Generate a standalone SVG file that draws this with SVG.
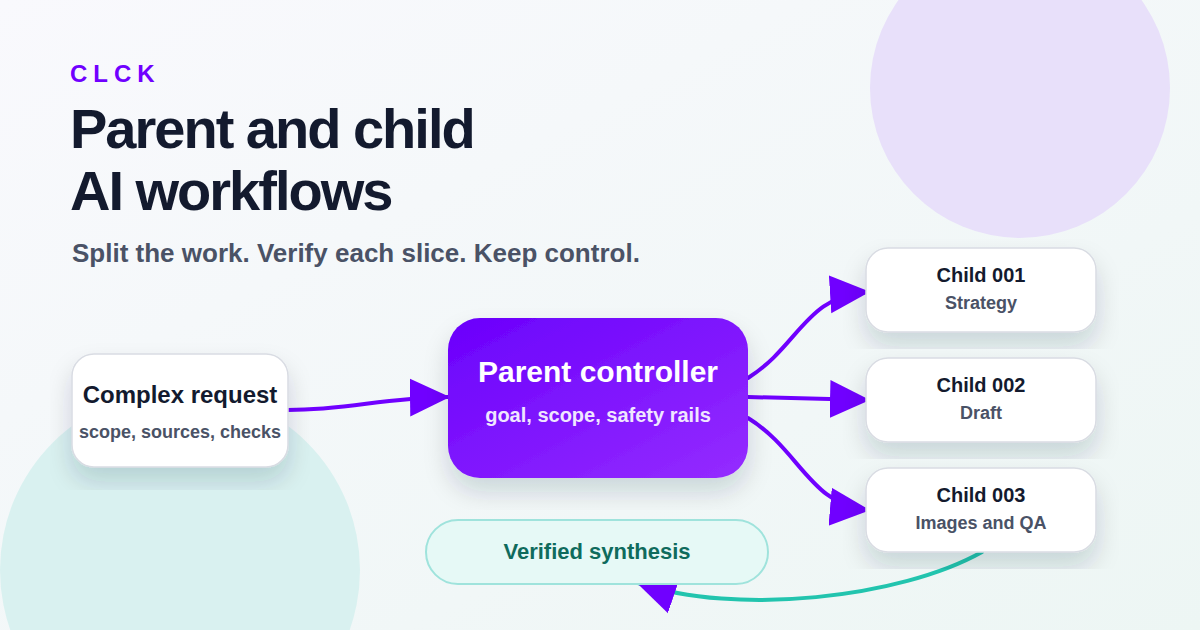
<svg xmlns="http://www.w3.org/2000/svg" width="1200" height="630" viewBox="0 0 1200 630">
<defs>
<linearGradient id="bg" x1="0" y1="0" x2="1" y2="1">
<stop offset="0" stop-color="#f9f9fd"/>
<stop offset="1" stop-color="#edf6f4"/>
</linearGradient>
<linearGradient id="pg" x1="0" y1="0" x2="1" y2="1">
<stop offset="0" stop-color="#6a00fc"/>
<stop offset="1" stop-color="#952cff"/>
</linearGradient>
<filter id="sh" x="-10%" y="-10%" width="120%" height="130%">
<feDropShadow dx="0" dy="14" stdDeviation="12" flood-color="#1e2a45" flood-opacity="0.16"/>
</filter>
<marker id="ah" viewBox="0 0 40 40" markerUnits="userSpaceOnUse" markerWidth="40" markerHeight="40" refX="38" refY="20" orient="auto">
<path d="M0 1 L40 20 L0 39 Z" fill="#7000ff"/>
</marker>
<style>
.card{fill:#ffffff;stroke:#d9dce3;stroke-width:1.5}
.t{font-family:"Liberation Sans",Arial,sans-serif;font-weight:700;text-anchor:middle}
.h{fill:#131a2e}
.s{fill:#4a5266}
.c{fill:none;stroke:#7000ff;stroke-width:4;stroke-linecap:round}
</style>
</defs>
<rect width="1200" height="630" fill="url(#bg)"/>
<circle cx="1020" cy="88" r="150" fill="#e8e0fa"/>
<circle cx="180" cy="570" r="180" fill="#d9f1f0"/>

<g id="header">
<text x="70" y="82" font-family="'Liberation Sans',Arial,sans-serif" font-weight="700" font-size="24" letter-spacing="6" fill="#7000ff">CLCK</text>
<text x="70" y="148" font-family="'Liberation Sans',Arial,sans-serif" font-weight="700" font-size="56" letter-spacing="-2" fill="#131a2e">Parent and child</text>
<text x="70" y="210" font-family="'Liberation Sans',Arial,sans-serif" font-weight="700" font-size="56" letter-spacing="-2" fill="#131a2e">AI workflows</text>
<text x="72" y="262" font-family="'Liberation Sans',Arial,sans-serif" font-weight="700" font-size="26" fill="#4a5266">Split the work. Verify each slice. Keep control.</text>
</g>

<g id="connectors">
<path class="c" d="M288 410 C350 410 380 398 448 397" marker-end="url(#ah)"/>
<path class="c" d="M748 378 C800 345 805 296 868 292" marker-end="url(#ah)"/>
<path class="c" d="M748 397 L868 400" marker-end="url(#ah)"/>
<path class="c" d="M748 418 C800 450 810 505 868 510" marker-end="url(#ah)"/>
<path d="M982 552 C900 598 736 616 638 583" fill="none" stroke="#22c4ae" stroke-width="4" stroke-linecap="round" marker-end="url(#ah)"/>
</g>

<g id="complex-request">
<rect class="card" x="72" y="354" width="216" height="113" rx="22" filter="url(#sh)"/>
<text class="t h" x="180" y="403" font-size="24">Complex request</text>
<text class="t s" x="180" y="438" font-size="18">scope, sources, checks</text>
</g>

<g id="parent-controller">
<rect x="448" y="318" width="300" height="160" rx="32" fill="url(#pg)" filter="url(#sh)"/>
<text class="t" x="598" y="382" font-size="30" fill="#ffffff">Parent controller</text>
<text class="t" x="598" y="422" font-size="20" fill="#f0e6ff">goal, scope, safety rails</text>
</g>

<g id="child-001">
<rect class="card" x="866" y="248" width="230" height="84" rx="22" filter="url(#sh)"/>
<text class="t h" x="981" y="282" font-size="20">Child 001</text>
<text class="t s" x="981" y="309" font-size="18">Strategy</text>
</g>

<g id="child-002">
<rect class="card" x="866" y="358" width="230" height="84" rx="22" filter="url(#sh)"/>
<text class="t h" x="981" y="392" font-size="20">Child 002</text>
<text class="t s" x="981" y="419" font-size="18">Draft</text>
</g>

<g id="child-003">
<rect class="card" x="866" y="468" width="230" height="84" rx="22" filter="url(#sh)"/>
<text class="t h" x="981" y="502" font-size="20">Child 003</text>
<text class="t s" x="981" y="529" font-size="18">Images and QA</text>
</g>

<g id="verified-synthesis">
<rect x="426" y="520" width="342" height="64" rx="32" fill="#e6f9f6" stroke="#9fe3dc" stroke-width="2"/>
<text class="t" x="597" y="559" font-size="22" fill="#0f6b5d">Verified synthesis</text>
</g>
</svg>
